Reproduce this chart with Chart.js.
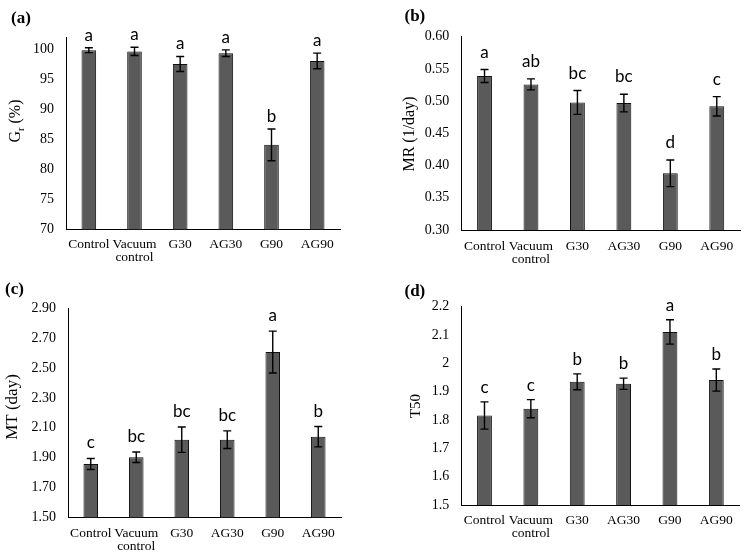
<!DOCTYPE html>
<html>
<head>
<meta charset="utf-8">
<script src="https://cdn.jsdelivr.net/npm/chart.js@4.4.1/dist/chart.umd.min.js"></script>
<style>
  html, body { margin: 0; padding: 0; background: #fff; }
  #wrap { position: relative; width: 746px; height: 559px; }
  canvas { position: absolute; }
</style>
</head>
<body>
<div id="wrap">
  <canvas id="ca" width="373" height="280" style="left:0;top:0"></canvas>
  <canvas id="cb" width="373" height="280" style="left:373px;top:0"></canvas>
  <canvas id="cc" width="373" height="279" style="left:0;top:280px"></canvas>
  <canvas id="cd" width="373" height="279" style="left:373px;top:280px"></canvas>
</div>
<script>
// ---- data ----
const categories = ['Control', ['Vacuum', 'control'], 'G30', 'AG30', 'G90', 'AG90'];

const grValues  = [99.9, 99.7, 97.6, 99.4, 84.1, 98.1];
const grErrors  = [0.4, 0.7, 1.25, 0.55, 2.65, 1.3];
const grLetters = ['a', 'a', 'a', 'a', 'b', 'a'];
const grTicks   = [70, 75, 80, 85, 90, 95, 100];

const mrValues  = [0.539, 0.526, 0.498, 0.497, 0.388, 0.492];
const mrErrors  = [0.010, 0.0085, 0.0185, 0.0137, 0.0207, 0.015];
const mrLetters = ['a', 'ab', 'bc', 'bc', 'd', 'c'];
const mrTicks   = [0.30, 0.35, 0.40, 0.45, 0.50, 0.55, 0.60];

const mtValues  = [1.857, 1.902, 2.020, 2.020, 2.607, 2.040];
const mtErrors  = [0.037, 0.035, 0.085, 0.059, 0.14, 0.068];
const mtLetters = ['c', 'bc', 'bc', 'bc', 'a', 'b'];
const mtTicks   = [1.50, 1.70, 1.90, 2.10, 2.30, 2.50, 2.70, 2.90];

const t50Values  = [1.816, 1.840, 1.935, 1.928, 2.111, 1.941];
const t50Errors  = [0.048, 0.032, 0.028, 0.020, 0.043, 0.039];
const t50Letters = ['c', 'c', 'b', 'b', 'a', 'b'];
const t50Ticks   = [1.5, 1.6, 1.7, 1.8, 1.9, 2.0, 2.1, 2.2];

// ---- drawing ----
const SERIF = '"Liberation Serif", "Times New Roman", serif';
const SANS = 'Lato, Carlito, "Open Sans", sans-serif';

function makePanel(id, s) {
  const decor = {
    id: 'decor_' + id,
    afterDatasetsDraw(chart) {
      const ctx = chart.ctx;
      const y = chart.scales.y;
      const meta = chart.getDatasetMeta(0);
      ctx.save();
      // error bars
      ctx.strokeStyle = '#000';
      ctx.lineWidth = 1.4;
      s.values.forEach((v, i) => {
        const x = meta.data[i].x;
        const yt = y.getPixelForValue(v + s.errors[i]);
        const yb = y.getPixelForValue(v - s.errors[i]);
        ctx.beginPath();
        ctx.moveTo(x, yt); ctx.lineTo(x, yb);
        ctx.moveTo(x - 4, yt); ctx.lineTo(x + 4, yt);
        ctx.moveTo(x - 4, yb); ctx.lineTo(x + 4, yb);
        ctx.stroke();
        // letters
        ctx.fillStyle = '#000';
        ctx.font = '17px ' + SANS;
        ctx.textAlign = 'center';
        ctx.textBaseline = 'alphabetic';
        ctx.fillText(s.letters[i], x, yt - s.letterGap);
      });
      // panel label
      ctx.font = 'bold 17px ' + SERIF;
      ctx.textAlign = 'left';
      ctx.fillText(s.panel, s.panelX, s.panelY);
      // y title (rotated, supports subscript)
      ctx.translate(s.titleX, s.titleY);
      ctx.rotate(-Math.PI / 2);
      ctx.textBaseline = 'middle';
      let total = 0;
      const fs = s.titleSize;
      s.title.forEach(p => {
        ctx.font = (p.sub ? fs * 0.65 : fs) + 'px ' + SERIF;
        p.w = ctx.measureText(p.t).width;
        total += p.w;
      });
      let cx = -total / 2;
      s.title.forEach(p => {
        ctx.font = (p.sub ? fs * 0.65 : fs) + 'px ' + SERIF;
        ctx.textAlign = 'left';
        ctx.fillText(p.t, cx, p.sub ? fs * 0.3 : 0);
        cx += p.w;
      });
      ctx.restore();
    }
  };

  return new Chart(document.getElementById(id), {
    type: 'bar',
    data: {
      labels: categories,
      datasets: [{
        data: s.values,
        backgroundColor: '#5a5a5a',
        borderColor: '#111',
        borderWidth: 1,
        barPercentage: 0.32,
        categoryPercentage: 1
      }]
    },
    options: {
      responsive: false,
      animation: false,
      events: [],
      layout: { padding: { top: s.top, right: s.right, left: 0, bottom: 0 } },
      plugins: { legend: { display: false }, tooltip: { enabled: false } },
      scales: {
        x: {
          grid: { display: false, drawTicks: false },
          border: { display: true, color: '#000', width: 1 },
          ticks: {
            color: '#000',
            font: { family: SERIF, size: 13.5, lineHeight: 0.94 },
            padding: s.xPad,
            maxRotation: 0,
            autoSkip: false
          },
          afterFit(sc) { sc.height = s.xh; }
        },
        y: {
          min: s.min,
          max: s.max,
          grid: { display: false, drawTicks: false },
          border: { display: true, color: '#000', width: 1 },
          ticks: {
            color: '#000',
            font: { family: SERIF, size: 14 },
            padding: 12,
            callback: s.fmt
          },
          afterBuildTicks(sc) { sc.ticks = s.ticks.map(v => ({ value: v })); },
          afterFit(sc) { sc.width = s.left; }
        }
      }
    },
    plugins: [decor]
  });
}

makePanel('ca', {
  values: grValues, errors: grErrors, letters: grLetters, ticks: grTicks,
  min: 70, max: 102.1, fmt: v => String(Math.round(v)),
  left: 66, top: 37, right: 33, xh: 50.7, xPad: 9.3, letterGap: 7,
  panel: '(a)', panelX: 11, panelY: 23,
  title: [{ t: 'G' }, { t: 'r', sub: true }, { t: ' (%)' }], titleX: 16, titleY: 121, titleSize: 16
});

makePanel('cb', {
  values: mrValues, errors: mrErrors, letters: mrLetters, ticks: mrTicks,
  min: 0.30, max: 0.60, fmt: v => v.toFixed(2),
  left: 88.3, top: 36.7, right: 6, xh: 50, xPad: 10.3, letterGap: 12,
  panel: '(b)', panelX: 31.5, panelY: 21,
  title: [{ t: 'MR (1/day)' }], titleX: 37, titleY: 134, titleSize: 16
});

makePanel('cc', {
  values: mtValues, errors: mtErrors, letters: mtLetters, ticks: mtTicks,
  min: 1.50, max: 2.90, fmt: v => v.toFixed(2),
  left: 68, top: 28.3, right: 32, xh: 41.7, xPad: 10.3, letterGap: 10,
  panel: '(c)', panelX: 5, panelY: 14,
  title: [{ t: 'MT (day)' }], titleX: 13, titleY: 127, titleSize: 17
});

makePanel('cd', {
  values: t50Values, errors: t50Errors, letters: t50Letters, ticks: t50Ticks,
  min: 1.5, max: 2.2, fmt: v => String(Number(v.toFixed(1))),
  left: 88.3, top: 26.7, right: 6.5, xh: 54, xPad: 9.3, letterGap: 9,
  panel: '(d)', panelX: 31.5, panelY: 16,
  title: [{ t: 'T50' }], titleX: 43, titleY: 126, titleSize: 15
});
</script>
</body>
</html>
